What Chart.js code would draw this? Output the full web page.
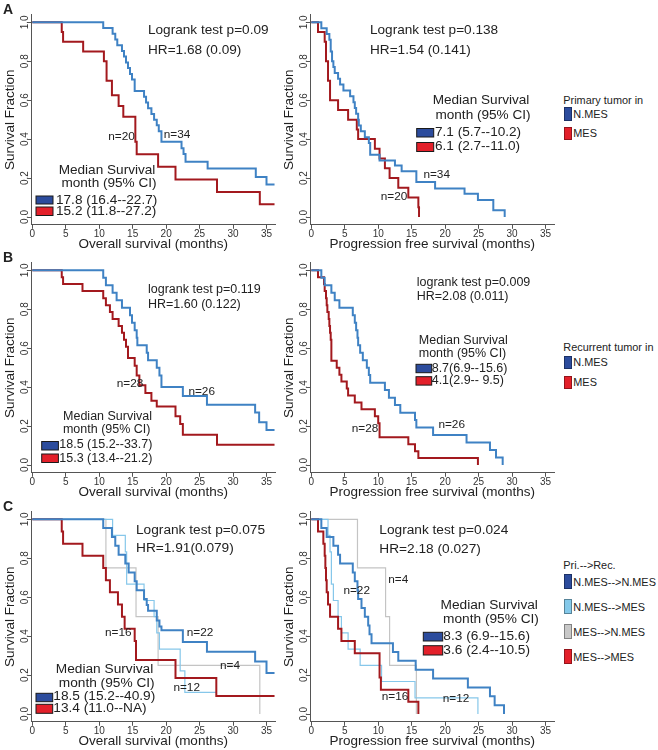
<!DOCTYPE html>
<html><head><meta charset="utf-8">
<script src="https://cdn.jsdelivr.net/npm/chart.js@4.4.1/dist/chart.umd.min.js"></script>
<style>
html,body{margin:0;padding:0;background:#fff;width:658px;height:750px;overflow:hidden;}
body{position:relative;font-family:'Liberation Sans',Arial,sans-serif;color:#222;}
canvas{position:absolute;}
.lbl{position:absolute;white-space:nowrap;}
.sw{position:absolute;box-sizing:border-box;}
</style></head><body>
<script>
// ---------- tick labels ----------
const xTicks = [0, 5, 10, 15, 20, 25, 30, 35];
const yTicks = [0, 0.2, 0.4, 0.6, 0.8, 1.0];

// ---------- A: primary tumor subtype ----------
const aOS_nmes_t = [0,10.6,12.0,12.4,12.7,13.4,13.7,14.0,14.3,14.6,14.9,15.3,16.7,17.0,17.3,17.8,18.2,18.6,18.9,19.3,22.3,22.6,22.9,26.2,33.4,35.0,36.2];
const aOS_nmes_s = [1,0.971,0.941,0.912,0.882,0.853,0.824,0.794,0.765,0.735,0.706,0.647,0.618,0.588,0.559,0.529,0.500,0.471,0.441,0.387,0.353,0.324,0.284,0.249,0.206,0.167,0.167];
const aOS_mes_t = [0,4.4,4.6,7.6,10.7,11.1,11.9,12.9,13.6,15.4,15.6,18.8,21.4,27.6,34.0,36.2];
const aOS_mes_s = [1,0.95,0.90,0.85,0.80,0.70,0.625,0.57,0.515,0.386,0.322,0.258,0.193,0.129,0.066,0.066];
const aPFS_nmes_t = [0,1.5,2.3,2.7,2.9,3.1,3.3,3.5,4.0,4.3,4.8,5.8,6.3,6.5,6.7,7.0,7.1,7.4,8.0,8.6,8.8,10.2,12.5,13.5,15.7,18.5,22.9,24.9,27.2,28.9];
const aPFS_nmes_s = [1,0.97,0.94,0.91,0.85,0.80,0.77,0.74,0.71,0.68,0.65,0.62,0.59,0.56,0.53,0.50,0.47,0.44,0.41,0.38,0.32,0.29,0.265,0.235,0.18,0.147,0.12,0.088,0.035,0.0];
const aPFS_mes_t = [0,1.0,2.0,2.2,2.5,2.8,4.0,5.5,6.8,7.0,9.5,10.2,11.0,11.7,13.0,14.5,16.0,16.1];
const aPFS_mes_s = [1,0.95,0.90,0.80,0.70,0.60,0.55,0.50,0.45,0.40,0.35,0.30,0.25,0.20,0.15,0.10,0.05,0.0];

// ---------- B: recurrent tumor subtype ----------
const bOS_nmes_t = [0,10.6,11.0,12.0,12.6,13.4,14.6,14.9,15.3,15.6,15.7,17.1,17.3,18.6,19.0,19.3,22.5,26.1,33.3,33.9,35.0,36.2];
const bOS_nmes_s = [1,0.962,0.923,0.885,0.846,0.808,0.769,0.731,0.692,0.654,0.615,0.577,0.538,0.50,0.46,0.40,0.355,0.31,0.27,0.22,0.18,0.18];
const bOS_mes_t = [0,4.4,4.6,7.5,10.6,11.0,11.6,12.0,12.9,13.4,13.7,14.0,14.3,15.3,15.6,16.0,16.9,17.8,18.6,21.4,22.1,22.5,27.6,36.2];
const bOS_mes_s = [1,0.964,0.929,0.893,0.857,0.821,0.786,0.75,0.714,0.679,0.643,0.607,0.55,0.51,0.46,0.41,0.37,0.33,0.30,0.25,0.21,0.155,0.104,0.104];
const bPFS_nmes_t = [0,1.5,2.0,3.0,3.5,4.2,6.2,6.5,6.7,6.9,7.0,7.3,7.7,8.3,8.6,8.8,11.0,11.6,12.5,13.3,15.5,15.7,18.2,23.2,26.7,27.6,28.6];
const bPFS_nmes_s = [1,0.962,0.923,0.885,0.846,0.808,0.769,0.731,0.692,0.654,0.615,0.577,0.538,0.50,0.462,0.423,0.385,0.346,0.308,0.269,0.231,0.192,0.154,0.115,0.077,0.038,0.0];
const bPFS_mes_t = [0,1.0,1.9,2.0,2.2,2.3,2.4,2.6,2.7,2.8,2.9,3.0,3.8,4.2,4.5,5.3,5.5,6.5,7.5,9.5,10.0,10.2,14.5,15.5,16.0,24.9];
const bPFS_mes_s = [1,0.964,0.929,0.893,0.857,0.821,0.786,0.75,0.714,0.679,0.643,0.536,0.50,0.464,0.429,0.393,0.357,0.321,0.286,0.25,0.214,0.143,0.107,0.071,0.036,0.0];

// ---------- C: primary --> recurrent ----------
const cOS_nn_t = [0,10.6,11.9,12.4,12.9,13.9,14.4,15.3,15.6,16.7,17.1,17.3,18.6,19.0,19.3,22.5,26.1,33.3,35.0,36.2];
const cOS_nn_s = [1,0.955,0.909,0.864,0.818,0.773,0.727,0.682,0.636,0.591,0.56,0.53,0.48,0.45,0.43,0.37,0.32,0.27,0.21,0.21];
const cOS_nm_t = [0,12.0,13.9,14.1,16.7,18.2,18.6,19.0,22.1,22.8,27.6];
const cOS_nm_s = [1,0.917,0.833,0.667,0.583,0.50,0.417,0.333,0.222,0.111,0.111];
const cOS_mn_t = [0,11.0,15.5,18.8,34.0];
const cOS_mn_s = [1,0.75,0.50,0.25,0.0];
const cOS_mm_t = [0,4.4,4.6,7.5,10.6,11.0,11.6,12.8,13.4,13.8,15.3,15.5,21.4,27.5,36.2];
const cOS_mm_s = [1,0.9375,0.875,0.8125,0.75,0.6875,0.625,0.5625,0.50,0.4375,0.375,0.278,0.185,0.093,0.093];
const cPFS_nn_t = [0,1.5,2.3,3.3,4.0,4.3,6.2,6.5,6.9,7.0,7.5,8.0,8.5,8.7,9.0,12.2,13.0,15.6,18.2,23.4,26.7,27.4,28.8];
const cPFS_nn_s = [1,0.955,0.909,0.864,0.818,0.773,0.727,0.682,0.636,0.591,0.545,0.50,0.455,0.409,0.364,0.318,0.273,0.227,0.182,0.136,0.091,0.045,0.0];
const cPFS_nm_t = [0,2.5,2.8,3.0,3.3,4.0,4.5,5.5,7.3,10.5,15.5,24.9];
const cPFS_nm_s = [1,0.917,0.833,0.667,0.583,0.50,0.417,0.333,0.25,0.167,0.083,0.0];
const cPFS_mn_t = [0,6.9,11.1,11.7,15.7];
const cPFS_mn_s = [1,0.75,0.50,0.25,0.0];
const cPFS_mm_t = [0,1.0,1.8,2.0,2.1,2.2,2.3,2.5,2.8,4.0,4.5,6.5,10.2,10.4,14.5,16.0];
const cPFS_mm_s = [1,0.9375,0.875,0.8125,0.75,0.6875,0.625,0.5625,0.50,0.4375,0.375,0.3125,0.1875,0.125,0.0625,0.0];

// ---------- styles ----------
const FONT = "'Liberation Sans', Arial, sans-serif";
const C_BLUE = '#3f82c4', C_RED = '#a3191e', C_LBLUE = '#86c7ea', C_GRAY = '#c4c4c4';
const BOX_BLUE = '#2c4c9d', BOX_RED = '#e3202a';
const AX = '#555', TXT = '#222';

const annotPlugin = {
  id: 'annot',
  afterDraw(chart, args, o) {
    const ctx = chart.ctx, ys = chart.scales.y;
    ctx.save();
    ctx.fillStyle = '#333';
    ctx.font = '10px ' + FONT;
    ctx.textAlign = 'center'; ctx.textBaseline = 'middle';
    yTicks.forEach(v => {
      const py = ys.getPixelForValue(v);
      ctx.save(); ctx.translate(chart.chartArea.left - 6.3, py); ctx.rotate(-Math.PI / 2);
      ctx.fillText(v.toFixed(1), 0, 0); ctx.restore();
    });
    (o.boxes || []).forEach(b => {
      ctx.fillStyle = b.c; ctx.fillRect(b.x, b.y, b.w, b.h);
      ctx.strokeStyle = '#1a1a1a'; ctx.lineWidth = 1; ctx.strokeRect(b.x, b.y, b.w, b.h);
    });
    ctx.fillStyle = TXT;
    (o.texts || []).forEach(t => {
      ctx.font = t.s + 'px ' + FONT;
      ctx.textAlign = t.a || 'left';
      ctx.fillText(t.t, t.x, t.y);
    });
    ctx.restore();
  }
};

function ds(t, s, color, w) {
  return { data: t.map((v, i) => ({ x: v, y: s[i] })), borderColor: color, borderWidth: w,
           stepped: true, pointRadius: 0, fill: false, tension: 0 };
}

function makePanel(left, top, h, xTitle, datasets, annot) {
  const cv = document.createElement('canvas');
  cv.width = 280; cv.height = h;
  cv.style.left = left + 'px'; cv.style.top = top + 'px';
  cv.style.width = '280px'; cv.style.height = h + 'px';
  document.body.appendChild(cv);
  new Chart(cv, {
    type: 'line',
    data: { datasets },
    options: {
      responsive: false, animation: false, devicePixelRatio: 1,
      layout: { padding: { left: 0, top: 14.5, right: 4.8, bottom: h - 224.8 - 27.3 } },
      plugins: { legend: { display: false }, tooltip: { enabled: false }, annot },
      scales: {
        x: {
          type: 'linear', min: -0.15, max: 36.3,
          afterBuildTicks: s => { s.ticks = xTicks.map(v => ({ value: v })); },
          afterFit: s => { s.height = 27.3; },
          ticks: { color: '#333', font: { family: FONT, size: 10, lineHeight: 1 }, padding: 0, autoSkip: false, maxRotation: 0, minRotation: 0 },
          grid: { display: true, drawOnChartArea: false, drawTicks: true, tickLength: 4, color: AX, lineWidth: 1 },
          border: { display: true, color: AX, width: 1 },
          title: { display: true, text: xTitle, color: TXT, font: { family: FONT, size: 13.5, lineHeight: 1.2 }, padding: { top: 0, bottom: 0 } }
        },
        y: {
          type: 'linear', min: -0.04, max: 1.04,
          afterBuildTicks: s => { s.ticks = yTicks.map(v => ({ value: v })); },
          afterFit: s => { s.width = 31.3; },
          ticks: { display: false },
          grid: { display: true, drawOnChartArea: false, drawTicks: true, tickLength: 4, color: AX, lineWidth: 1 },
          border: { display: true, color: AX, width: 1 },
          title: { display: true, text: 'Survival Fraction', color: TXT, font: { family: FONT, size: 13.5, lineHeight: 1.2 }, padding: { top: 2, bottom: 0 } }
        }
      }
    },
    plugins: [annotPlugin]
  });
}

const OS = 'Overall survival (months)', PFS = 'Progression free survival (months)';
const L = 0, R = 279, RA = 0, RB = 248, RC = 497, H = 256;

// Panel A
makePanel(L, RA, H, OS, [ds(aOS_nmes_t, aOS_nmes_s, C_BLUE, 2), ds(aOS_mes_t, aOS_mes_s, C_RED, 2)], {
  texts: [
    { t: 'Logrank test p=0.09', x: 148, y: 30, s: 13.6 }, { t: 'HR=1.68 (0.09)', x: 148, y: 50, s: 13.6 },
    { t: 'n=20', x: 121.5, y: 137, s: 11.8, a: 'center' }, { t: 'n=34', x: 177, y: 134.5, s: 11.8, a: 'center' },
    { t: 'Median Survival', x: 107, y: 170, s: 13.6, a: 'center' }, { t: 'month (95% CI)', x: 109, y: 183.5, s: 13.6, a: 'center' },
    { t: '17.8 (16.4--22.7)', x: 56, y: 200, s: 13.6 }, { t: '15.2 (11.8--27.2)', x: 56, y: 211, s: 13.6 }
  ],
  boxes: [{ x: 36, y: 196, w: 17, h: 8, c: BOX_BLUE }, { x: 36, y: 207, w: 17, h: 8.5, c: BOX_RED }]
});
makePanel(R, RA, H, PFS, [ds(aPFS_nmes_t, aPFS_nmes_s, C_BLUE, 2), ds(aPFS_mes_t, aPFS_mes_s, C_RED, 2)], {
  texts: [
    { t: 'Logrank test p=0.138', x: 91, y: 30, s: 13.6 }, { t: 'HR=1.54 (0.141)', x: 91, y: 50, s: 13.6 },
    { t: 'Median Survival', x: 202, y: 100, s: 13.6, a: 'center' }, { t: 'month (95% CI)', x: 204, y: 115, s: 13.6, a: 'center' },
    { t: '7.1 (5.7--10.2)', x: 156, y: 132.5, s: 13.6 }, { t: '6.1 (2.7--11.0)', x: 156, y: 146.5, s: 13.6 },
    { t: 'n=34', x: 157.7, y: 175, s: 11.8, a: 'center' }, { t: 'n=20', x: 115, y: 196.7, s: 11.8, a: 'center' }
  ],
  boxes: [{ x: 137.7, y: 128.5, w: 17, h: 8.5, c: BOX_BLUE }, { x: 137.7, y: 142.5, w: 17, h: 9, c: BOX_RED }]
});

// Panel B
makePanel(L, RB, H, OS, [ds(bOS_nmes_t, bOS_nmes_s, C_BLUE, 2), ds(bOS_mes_t, bOS_mes_s, C_RED, 2)], {
  texts: [
    { t: 'logrank test p=0.119', x: 148, y: 41.3, s: 12.5 }, { t: 'HR=1.60 (0.122)', x: 148, y: 57, s: 12.5 },
    { t: 'n=28', x: 130, y: 135.3, s: 11.8, a: 'center' }, { t: 'n=26', x: 201.7, y: 143.7, s: 11.8, a: 'center' },
    { t: 'Median Survival', x: 107.5, y: 168.7, s: 12.5, a: 'center' }, { t: 'month (95% CI)', x: 106.7, y: 182, s: 12.5, a: 'center' },
    { t: '18.5 (15.2--33.7)', x: 59.3, y: 196.3, s: 12.5 }, { t: '15.3 (13.4--21.2)', x: 59.3, y: 210.3, s: 12.5 }
  ],
  boxes: [{ x: 41.7, y: 193.5, w: 16.7, h: 8.5, c: BOX_BLUE }, { x: 41.7, y: 206, w: 16.7, h: 8.5, c: BOX_RED }]
});
makePanel(R, RB, H, PFS, [ds(bPFS_nmes_t, bPFS_nmes_s, C_BLUE, 2), ds(bPFS_mes_t, bPFS_mes_s, C_RED, 2)], {
  texts: [
    { t: 'logrank test p=0.009', x: 137.7, y: 34.3, s: 12.5 }, { t: 'HR=2.08 (0.011)', x: 137.7, y: 48.7, s: 12.5 },
    { t: 'Median Survival', x: 184.3, y: 92.7, s: 12.5, a: 'center' }, { t: 'month (95% CI)', x: 183.5, y: 105.3, s: 12.5, a: 'center' },
    { t: '8.7(6.9--15.6)', x: 152.7, y: 120.3, s: 12.5 }, { t: '4.1(2.9-- 9.5)', x: 152.7, y: 132.7, s: 12.5 },
    { t: 'n=28', x: 86, y: 180.3, s: 11.8, a: 'center' }, { t: 'n=26', x: 172.7, y: 177, s: 11.8, a: 'center' }
  ],
  boxes: [{ x: 137, y: 116.3, w: 15.7, h: 8.4, c: BOX_BLUE }, { x: 137, y: 128.7, w: 15.7, h: 8.4, c: BOX_RED }]
});

// Panel C
makePanel(L, RC, H, OS, [ds(cOS_nn_t, cOS_nn_s, C_BLUE, 2), ds(cOS_mm_t, cOS_mm_s, C_RED, 2),
                         ds(cOS_nm_t, cOS_nm_s, C_LBLUE, 1.2), ds(cOS_mn_t, cOS_mn_s, C_GRAY, 1.2)], {
  texts: [
    { t: 'Logrank test p=0.075', x: 136, y: 33, s: 13.7 }, { t: 'HR=1.91(0.079)', x: 136, y: 51.3, s: 13.7 },
    { t: 'n=16', x: 118.3, y: 135.3, s: 11.8, a: 'center' }, { t: 'n=22', x: 200, y: 135.3, s: 11.8, a: 'center' },
    { t: 'n=4', x: 230, y: 168.7, s: 11.8, a: 'center' }, { t: 'n=12', x: 186.7, y: 190.7, s: 11.8, a: 'center' },
    { t: 'Median Survival', x: 104.5, y: 172, s: 13.7, a: 'center' }, { t: 'month (95% CI)', x: 106.7, y: 186.3, s: 13.7, a: 'center' },
    { t: '18.5 (15.2--40.9)', x: 53.3, y: 199.7, s: 13.7 }, { t: '13.4 (11.0--NA)', x: 53.3, y: 211.3, s: 13.7 }
  ],
  boxes: [{ x: 36, y: 196.3, w: 16.7, h: 8.4, c: BOX_BLUE }, { x: 36, y: 207.3, w: 16.7, h: 9, c: BOX_RED }]
});
makePanel(R, RC, H, PFS, [ds(cPFS_nn_t, cPFS_nn_s, C_BLUE, 2), ds(cPFS_mm_t, cPFS_mm_s, C_RED, 2),
                          ds(cPFS_nm_t, cPFS_nm_s, C_LBLUE, 1.2), ds(cPFS_mn_t, cPFS_mn_s, C_GRAY, 1.2)], {
  texts: [
    { t: 'Logrank test p=0.024', x: 100.3, y: 33, s: 13.7 }, { t: 'HR=2.18 (0.027)', x: 100.3, y: 52, s: 13.7 },
    { t: 'n=4', x: 119.3, y: 83, s: 11.8, a: 'center' }, { t: 'n=22', x: 77.7, y: 94, s: 11.8, a: 'center' },
    { t: 'n=16', x: 116, y: 199.7, s: 11.8, a: 'center' }, { t: 'n=12', x: 177, y: 201.3, s: 11.8, a: 'center' },
    { t: 'Median Survival', x: 210.2, y: 108, s: 13.7, a: 'center' }, { t: 'month (95% CI)', x: 212, y: 122, s: 13.7, a: 'center' },
    { t: '8.3 (6.9--15.6)', x: 164.3, y: 139.7, s: 13.7 }, { t: '3.6 (2.4--10.5)', x: 164.3, y: 153, s: 13.7 }
  ],
  boxes: [{ x: 144.3, y: 135.3, w: 19.4, h: 8.7, c: BOX_BLUE }, { x: 144.3, y: 148.7, w: 19.4, h: 9.3, c: BOX_RED }]
});

// ---------- HTML labels: panel letters and side legends ----------
function lbl(text, x, cy, size, bold) {
  const d = document.createElement('div');
  d.className = 'lbl'; d.textContent = text;
  d.style.left = x + 'px'; d.style.top = (cy - size / 2) + 'px';
  d.style.fontSize = size + 'px'; d.style.lineHeight = size + 'px';
  if (bold) d.style.fontWeight = 'bold';
  document.body.appendChild(d);
}
function sw(x, y, w, h, c) {
  const d = document.createElement('div');
  d.className = 'sw';
  d.style.cssText = `left:${x}px;top:${y}px;width:${w}px;height:${h}px;background:${c};border:1px solid rgba(0,0,0,0.35);`;
  document.body.appendChild(d);
}
lbl('A', 3, 8.5, 14, true); lbl('B', 3, 256.7, 14, true); lbl('C', 3, 506.3, 14, true);

const legA = ['N.MES', 'MES'], legB = ['N.MES', 'MES'];
const legC = ['N.MES-->N.MES', 'N.MES-->MES', 'MES-->N.MES', 'MES-->MES'];
const legCols2 = [BOX_BLUE, BOX_RED];
const legCols4 = [BOX_BLUE, '#84c9ea', '#c8c8c8', BOX_RED];

lbl('Primary tumor in', 563.3, 100, 10.9);
legA.forEach((t, i) => { sw(564, 107.3 + i * 19.4, 8, 13.4, legCols2[i]); lbl(t, 573.3, 114.3 + i * 19.2, 10.9); });
lbl('Recurrent tumor in', 563.3, 347.3, 10.9);
legB.forEach((t, i) => { sw(564, 356 + i * 20, 8, 12.6, legCols2[i]); lbl(t, 573.3, 362.7 + i * 19.6, 10.9); });
lbl('Pri.-->Rec.', 563.3, 565, 10.9);
legC.forEach((t, i) => { sw(564, 574 + i * 25.1, 8, 14.5, legCols4[i]); lbl(t, 573.3, 582.7 + i * 24.9, 10.9); });
</script>
</body></html>
